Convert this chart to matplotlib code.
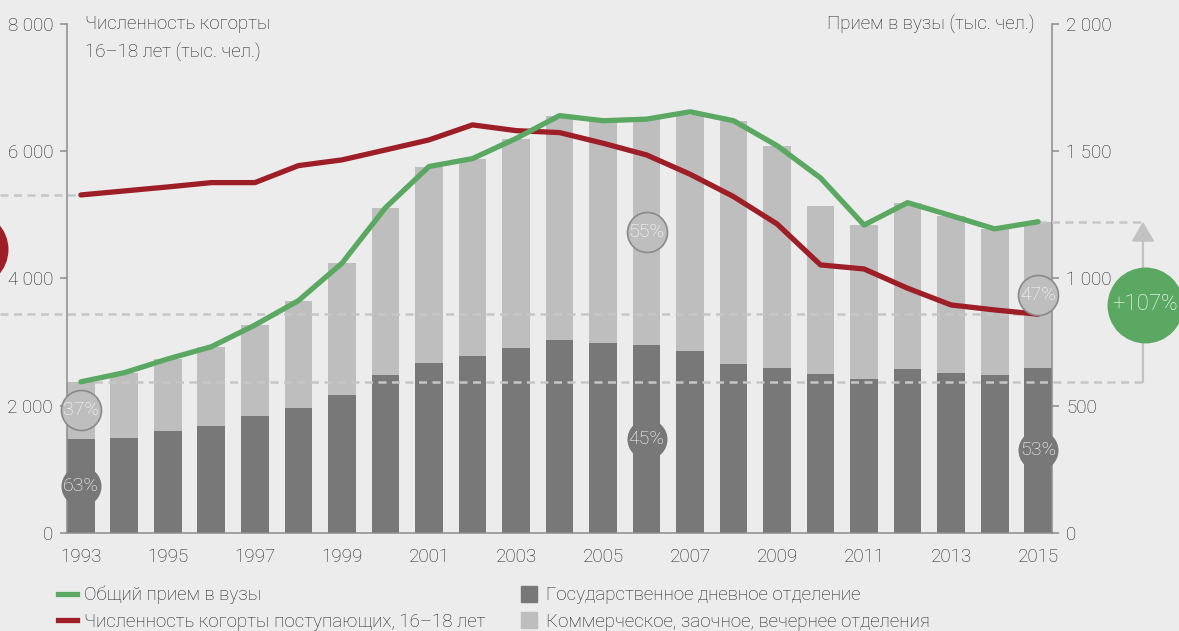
import matplotlib
matplotlib.use("Agg")
import matplotlib.pyplot as plt
import numpy as np
from matplotlib.lines import Line2D
from matplotlib.ticker import FuncFormatter

# data, thousands of people
years = np.arange(1993, 2016)
state_day = [369, 373, 401, 422, 461, 493, 542, 621, 669, 697, 728, 760,
             748, 739, 716, 664, 648, 625, 605, 645, 629, 622, 650]
bar_total = [594, 630, 684, 732, 817, 913, 1060, 1278, 1440, 1471, 1550, 1640,
             1620, 1626, 1643, 1620, 1522, 1285, 1210, 1298, 1247, 1195, 1223]
admissions = [594, 630, 684, 732, 817, 913, 1060, 1278, 1440, 1471, 1550, 1640,
              1620, 1626, 1655, 1620, 1522, 1395, 1210, 1298, 1247, 1195, 1223]
cohort = [5313, 5376, 5439, 5507, 5507, 5774, 5864, 6020, 6178, 6414, 6324, 6293,
          6126, 5942, 5639, 5287, 4857, 4213, 4150, 3847, 3584, 3506, 3438]

pct_years = [1993, 1993, 2006, 2006, 2015, 2015]
pct_part = ["dark", "light", "dark", "light", "dark", "light"]
pct_labels = ["63%", "37%", "45%", "55%", "53%", "47%"]

growth_label = "+107%"

BG = "#ececec"
DARK = "#787878"
LIGHT = "#bebebe"
GREEN = "#5ba862"
RED = "#9e1e28"
SPINE = "#8c8c8c"
DASH = "#c6c6c6"
TXT = "#222222"

plt.rcParams["font.family"] = ["Roboto", "DejaVu Sans"]
plt.rcParams["font.weight"] = "light"
plt.rcParams["font.size"] = 13

state_day = np.array(state_day)
bar_total = np.array(bar_total)
commercial = bar_total - state_day


def fmt_thousands(v, pos):
    return f"{int(round(v)):,}".replace(",", " ")


fig = plt.figure(figsize=(11.79, 6.31), dpi=100, facecolor=BG)
ax = fig.add_axes([0.0568, 0.1553, 0.8355, 0.8067])
ax.set_facecolor(BG)
ax_l = ax.twinx()
ax_g = ax.twinx()

# bars (right scale)
bw = 0.64
ax.bar(years, state_day, width=bw, color=DARK, zorder=2)
ax.bar(years, commercial, width=bw, bottom=state_day, color=LIGHT, zorder=2)

ax.set_xlim(1993 - bw / 2, 2015 + bw / 2)
for a in (ax, ax_g):
    a.set_ylim(0, 2000)
ax_l.set_ylim(0, 8000)

# axes styling
ax.yaxis.tick_right()
ax.set_yticks([0, 500, 1000, 1500, 2000])
ax.yaxis.set_major_formatter(FuncFormatter(fmt_thousands))
ax.set_xticks(years[::2])
ax.tick_params(axis="x", length=0, pad=11, labelsize=13.5, colors=TXT)
ax.tick_params(axis="y", length=5, width=1.1, color=SPINE, pad=5, labelsize=13.5,
               labelcolor=TXT)
for s in ("top", "left"):
    ax.spines[s].set_visible(False)
for s in ("right", "bottom"):
    ax.spines[s].set_color(SPINE)
    ax.spines[s].set_linewidth(1.1)

ax_l.yaxis.tick_left()
ax_l.set_yticks([0, 2000, 4000, 6000, 8000])
ax_l.yaxis.set_major_formatter(FuncFormatter(fmt_thousands))
ax_l.tick_params(axis="y", length=5, width=1.1, color=SPINE, pad=5, labelsize=13.5,
                 labelcolor=TXT)
for s in ("top", "right", "bottom"):
    ax_l.spines[s].set_visible(False)
ax_l.spines["left"].set_color(SPINE)
ax_l.spines["left"].set_linewidth(1.1)

ax_g.axis("off")

# reference dashes
px_per_year = (ax.get_position().width * 1179) / (2015 - 1993 + bw)
x_edge = 1993 - bw / 2 - 67 / px_per_year
arrow_x = 2017.41
dash_kw = dict(color=DASH, lw=1.8, linestyle=(0, (3.2, 2.2)), clip_on=False, zorder=2.5)
ax_l.plot([x_edge, years[0]], [cohort[0]] * 2, **dash_kw)
ax_l.plot([x_edge, years[-1]], [cohort[-1]] * 2, **dash_kw)
ax_g.plot([years[0], arrow_x], [admissions[0]] * 2, **dash_kw)
ax_g.plot([years[-1], arrow_x], [admissions[-1]] * 2, **dash_kw)

# lines
ax_l.plot(years, cohort, color=RED, lw=3.8, solid_capstyle="round", zorder=3)
ax_g.plot(years, admissions, color=GREEN, lw=3.8, solid_capstyle="round", zorder=3)

# percentage bubbles
for yr, part, lab in zip(pct_years, pct_part, pct_labels):
    i = int(yr - years[0])
    if part == "dark":
        yv = state_day[i] / 2
        ax_g.scatter(yr, yv, s=830, color=DARK, zorder=5, clip_on=False, linewidths=0)
    else:
        yv = (state_day[i] + bar_total[i]) / 2
        ax_g.scatter(yr, yv, s=830, color=LIGHT, edgecolors="#8a8a8a", linewidths=1.2,
                     zorder=5, clip_on=False)
    ax_g.text(yr, yv, lab, ha="center", va="center", color="white", fontsize=14,
              zorder=6)

# growth arrow and bubble
ax_g.annotate("", xy=(arrow_x, admissions[-1]), xytext=(arrow_x, admissions[0]),
              arrowprops=dict(arrowstyle="-|>,head_length=0.6,head_width=0.35",
                              color="#c2c2c2", lw=1.6, shrinkA=0, shrinkB=0,
                              mutation_scale=20),
              annotation_clip=False, zorder=4)
ax_g.scatter(2017.45, 896, s=2990, color=GREEN, zorder=6, clip_on=False, linewidths=0)
ax_g.text(2017.45, 896, growth_label, ha="center", va="center", color="white",
          fontsize=16, zorder=7, clip_on=False)

# decline bubble, mostly outside the picture on the left
ax_l.scatter(1990.46, 4465, s=2990, color=RED, zorder=6, clip_on=False, linewidths=0)

# axis titles
fig.text(85 / 1179, 1 - 15 / 631, "Численность когорты\n16–18 лет (тыс. чел.)",
         ha="left", va="top", color=TXT, fontsize=13.5, linespacing=1.65)
fig.text(1035 / 1179, 1 - 25 / 631, "Прием в вузы (тыс. чел.)", ha="right",
         va="center", color=TXT, fontsize=13.5)

# legend
handles = [
    Line2D([0], [0], color=GREEN, lw=3.8),
    Line2D([0], [0], color=RED, lw=3.8),
    Line2D([], [], marker="s", ls="none", markersize=11, color=DARK),
    Line2D([], [], marker="s", ls="none", markersize=11, color=LIGHT),
]
labels = [
    "Общий прием в вузы",
    "Численность когорты поступающих, 16–18 лет",
    "Государственное дневное отделение",
    "Коммерческое, заочное, вечернее отделения",
]
fig.legend(handles, labels, ncol=2, loc="upper left",
           bbox_to_anchor=(58 / 1179, 1 - 586 / 631), frameon=False,
           fontsize=13.5, handlelength=1.0, handletextpad=0.4, columnspacing=1.8,
           labelspacing=0.45, borderaxespad=0, borderpad=0, labelcolor=TXT)

fig.savefig("out.png", dpi=100, facecolor=BG)
